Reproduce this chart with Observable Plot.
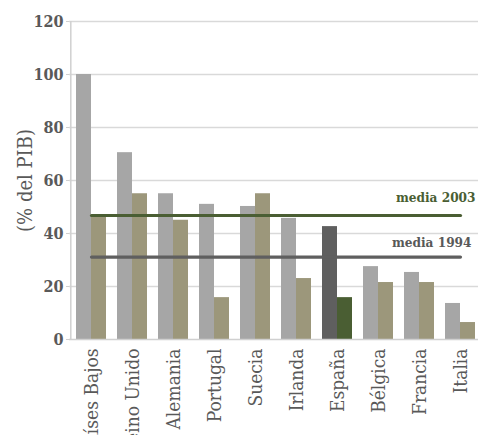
<!DOCTYPE html>
<html>
<head>
<meta charset="utf-8">
<script src="https://cdn.jsdelivr.net/npm/d3@7"></script>
<script src="https://cdn.jsdelivr.net/npm/@observablehq/plot@0.6"></script>
<style>
  html, body { margin: 0; padding: 0; background: #fff; }
  #chart svg { display: block; overflow: hidden; }
</style>
</head>
<body>
<div id="chart"></div>
<script>
// Deuda pública por país, 1994 frente a 2003 (% del PIB)
const countries = ["Países Bajos", "Reino Unido", "Alemania", "Portugal", "Suecia", "Irlanda", "España", "Bélgica", "Francia", "Italia"];
const values1994 = [100, 70.5, 55, 51, 50.2, 45.7, 42.6, 27.5, 25.3, 13.6];
const values2003 = [47, 55, 45, 15.8, 55, 23, 15.8, 21.5, 21.5, 6.4];
const media1994 = 31.1;
const media2003 = 46.8;
const yTicks = [0, 20, 40, 60, 80, 100, 120];
const yLabel = "(% del PIB)";
const highlight = "España";

const rows = countries.map((c, i) => ({country: c, v1994: values1994[i], v2003: values2003[i]}));
const font = "'DejaVu Serif Condensed', 'DejaVu Serif', serif";

const chart = Plot.plot({
  width: 478,
  height: 435,
  marginTop: 21,
  marginBottom: 96,
  marginLeft: 69,
  marginRight: 0,
  style: {fontFamily: font, background: "#fff", overflow: "hidden"},
  x: {domain: countries, range: [68.3, 482.3], paddingInner: 0.275, paddingOuter: 0.1375, label: null},
  y: {domain: [0, 120], ticks: yTicks, label: null},
  color: {type: "identity"},
  marks: [
    Plot.gridY(yTicks.filter(t => t > 0), {stroke: "#d9d9d9", strokeOpacity: 1, strokeWidth: 1.5}),
    Plot.barY(rows, {x: "country", y: "v1994", insetRight: 15, fill: d => d.country === highlight ? "#5f5f5f" : "#a6a6a6"}),
    Plot.barY(rows, {x: "country", y: "v2003", insetLeft: 15, fill: d => d.country === highlight ? "#4a5e33" : "#9c977b"}),
    Plot.ruleX([0], {x: () => countries[0], dx: -20.7, y1: 0, y2: 120, stroke: "#d0d0d0", strokeWidth: 1.5}),
    Plot.ruleY([0], {stroke: "#d0d0d0", strokeWidth: 1.5}),
    Plot.lineY(countries, {x: d => d, y: () => media2003, stroke: "#4a5e33", strokeWidth: 3.2}),
    Plot.lineY(countries, {x: d => d, y: () => media1994, stroke: "#5f5f5f", strokeWidth: 3.2}),
    Plot.text(["media 2003"], {x: () => countries[countries.length - 1], y: () => media2003, text: d => d, textAnchor: "end", dx: 15, dy: -18, fill: "#4a5e33", fontSize: 13.5, fontWeight: "bold"}),
    Plot.text(["media 1994"], {x: () => countries[countries.length - 1], y: () => media1994, text: d => d, textAnchor: "end", dx: 11, dy: -14, fill: "#595959", fontSize: 13.5, fontWeight: "bold"}),
    Plot.axisY({ticks: yTicks, tickSize: 3, tickPadding: 3, stroke: "#d0d0d0", fill: "#595959", fontSize: 16, fontWeight: "bold"}),
    Plot.axisX({tickSize: 0, tickPadding: 9, tickRotate: -90, fill: "#595959", fontSize: 19}),
    Plot.text([yLabel], {frameAnchor: "left", textAnchor: "middle", dx: -44, rotate: -90, text: d => d, fill: "#595959", fontSize: 20})
  ]
});
document.getElementById("chart").append(chart);
</script>
</body>
</html>
